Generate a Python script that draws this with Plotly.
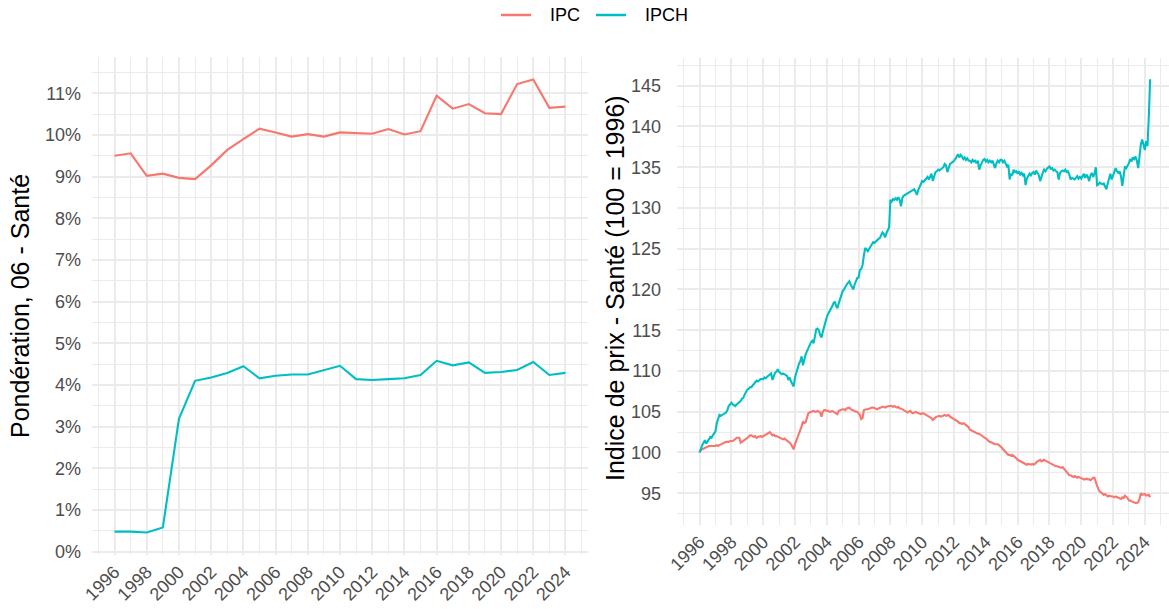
import plotly.graph_objects as go

W, H = 1169, 609

# ---------------- data ----------------
years = list(range(1996, 2025))
ipc_weight = [9.50, 9.56, 9.02, 9.07, 8.97, 8.94, 9.27, 9.64, 9.90, 10.15,
              10.06, 9.96, 10.02, 9.96, 10.06, 10.05, 10.03, 10.14, 10.01, 10.09,
              10.94, 10.63, 10.74, 10.52, 10.50, 11.22, 11.33, 10.65, 10.68]
ipch_weight = [0.48, 0.48, 0.46, 0.58, 3.19, 4.10, 4.18, 4.29, 4.45, 4.16,
               4.22, 4.25, 4.25, 4.35, 4.46, 4.14, 4.12, 4.14, 4.16, 4.24,
               4.58, 4.47, 4.54, 4.29, 4.31, 4.36, 4.55, 4.24, 4.29]

# monthly price index, Jan 1996 -> May 2024 (one row per year)
ipch_index = [
    100.0, 100.6, 100.9, 101.2, 101.5, 101.1, 101.3, 101.6, 101.9, 101.8, 102.1, 102.3,
    102.6, 103.6, 104.2, 104.6, 104.5, 104.6, 104.6, 104.7, 104.9, 105.2, 105.7, 105.9,
    106.1, 105.9, 105.8, 105.7, 105.9, 106.0, 106.1, 106.3, 106.6, 106.7, 107.1, 107.4,
    107.7, 107.8, 108.0, 108.0, 108.2, 108.4, 108.6, 108.8, 108.7, 108.9, 109.0, 109.0,
    109.0, 109.2, 109.1, 109.3, 109.4, 109.6, 109.7, 108.9, 109.5, 109.8, 109.9, 110.2,
    109.9, 109.7, 109.6, 109.7, 109.6, 109.6, 109.4, 108.9, 109.2, 108.7, 108.4, 108.1,
    109.2, 109.9, 110.4, 110.9, 111.2, 111.8, 110.7, 111.6, 112.0, 112.4, 112.8, 113.2,
    113.5, 113.7, 113.4, 114.2, 115.1, 115.2, 115.0, 114.4, 114.1, 114.8, 115.5, 115.8,
    116.6, 117.0, 117.3, 117.5, 117.9, 118.3, 118.5, 118.0, 117.7, 118.3, 118.9, 119.5,
    119.8, 120.0, 120.4, 120.6, 120.8, 121.0, 120.6, 120.2, 120.0, 120.6, 121.1, 121.4,
    121.5, 122.4, 122.5, 123.0, 124.2, 125.1, 124.9, 124.7, 125.0, 125.3, 125.6, 125.8,
    125.7, 125.9, 126.1, 126.2, 126.3, 126.6, 127.0, 126.8, 126.4, 126.9, 127.3, 127.6,
    131.0, 130.8, 131.1, 131.0, 131.2, 131.0, 131.3, 131.0, 130.2, 131.2, 131.5, 131.6,
    131.7, 131.8, 131.9, 132.0, 132.0, 132.2, 132.3, 132.0, 131.6, 132.2, 132.6, 132.9,
    133.3, 133.2, 133.4, 133.6, 133.8, 133.5, 134.0, 134.2, 133.3, 134.0, 134.4, 134.5,
    134.7, 134.6, 134.7, 134.9, 135.0, 135.4, 135.2, 134.4, 135.0, 135.4, 135.5, 135.6,
    135.8, 136.0, 136.4, 136.6, 136.2, 136.5, 136.3, 136.0, 136.2, 135.9, 136.1, 135.8,
    135.8, 135.6, 135.9, 135.7, 135.8, 135.5, 135.8, 134.7, 135.2, 135.6, 135.9, 136.0,
    135.7, 135.9, 135.6, 135.8, 135.6, 135.8, 135.4, 134.9, 135.5, 135.8, 135.6, 135.9,
    135.9, 135.6, 135.8, 135.4, 135.1, 135.3, 133.5, 134.2, 134.0, 134.7, 134.4, 134.5,
    134.2, 134.5, 134.1, 134.3, 134.0, 134.2, 132.8, 133.6, 133.9, 134.2, 134.0, 134.3,
    134.4, 134.1, 134.6, 134.2, 134.0, 133.3, 133.9, 134.3, 134.7, 134.5, 134.8, 135.0,
    135.1, 134.8, 134.9, 134.6, 134.7, 134.5, 134.4, 133.5, 134.3, 134.5, 134.6, 134.5,
    134.7, 134.4, 134.5, 134.1, 133.5, 133.7, 133.6, 133.5, 133.7, 133.9, 133.6, 133.8,
    133.6, 134.0, 134.2, 133.7, 134.1, 133.8, 133.3, 134.0, 134.3, 133.8, 134.2, 135.0,
    132.8, 132.9, 133.1, 133.0, 132.9, 133.0, 132.7, 132.3, 133.0, 133.8, 134.2, 133.5,
    134.0, 134.6, 134.9, 134.5, 134.3, 134.5, 133.9, 132.7, 134.2, 135.1, 134.9, 135.2,
    135.5, 136.0, 135.7, 136.2, 136.0, 136.3, 135.8, 134.9, 136.5, 137.8, 138.4, 137.5,
    137.1, 138.2, 137.6, 141.2, 145.8,
]
ipc_index = [
    100.0, 100.3, 100.4, 100.5, 100.6, 100.6, 100.7, 100.8, 100.8, 100.8, 100.8, 100.8,
    100.8, 100.9, 100.8, 100.9, 101.0, 101.1, 101.2, 101.2, 101.3, 101.3, 101.3, 101.4,
    101.4, 101.4, 101.5, 101.7, 101.8, 101.8, 101.8, 101.2, 101.3, 101.5, 101.6, 101.6,
    101.7, 101.9, 102.1, 102.1, 102.0, 101.9, 102.0, 101.8, 101.9, 102.0, 102.0, 101.9,
    102.0, 102.0, 102.1, 102.2, 102.4, 102.5, 102.3, 102.1, 102.2, 102.0, 102.0, 101.9,
    101.8, 101.8, 101.7, 101.6, 101.7, 101.6, 101.4, 101.3, 101.2, 101.0, 100.7, 100.4,
    101.0, 101.4, 101.8, 102.3, 102.7, 103.2, 103.8, 103.6, 103.7, 104.3, 104.8, 104.9,
    105.0, 105.0, 105.1, 105.0, 105.0, 105.1, 105.0, 104.9, 104.4, 105.0, 105.2, 105.2,
    105.1, 105.1, 105.0, 105.0, 105.1, 105.0, 104.8, 104.8, 104.7, 105.1, 105.2, 105.2,
    105.3, 105.3, 105.2, 105.4, 105.5, 105.5, 105.3, 105.2, 105.2, 105.1, 105.0, 105.0,
    104.8, 104.6, 104.1, 104.2, 105.2, 105.3, 105.3, 105.3, 105.4, 105.4, 105.5, 105.5,
    105.4, 105.3, 105.3, 105.4, 105.5, 105.5, 105.6, 105.6, 105.5, 105.6, 105.7, 105.7,
    105.7, 105.7, 105.6, 105.7, 105.6, 105.5, 105.6, 105.4, 105.4, 105.3, 105.2, 105.1,
    105.0, 104.9, 105.0, 105.1, 104.9, 104.8, 104.9, 105.0, 104.9, 104.8, 104.8, 104.7,
    104.8, 104.8, 104.7, 104.6, 104.6, 104.5, 104.4, 104.2, 104.0, 104.2, 104.3, 104.4,
    104.5, 104.5, 104.4, 104.5, 104.6, 104.6, 104.5, 104.6, 104.6, 104.4, 104.3, 104.2,
    104.2, 104.1, 104.0, 103.8, 103.6, 103.6, 103.5, 103.6, 103.5, 103.4, 103.3, 103.1,
    102.8, 102.7, 102.6, 102.6, 102.5, 102.4, 102.3, 102.3, 102.2, 102.1, 101.9, 101.8,
    101.7, 101.6, 101.4, 101.3, 101.2, 101.2, 101.1, 101.0, 101.0, 101.0, 100.9, 100.8,
    100.6, 100.4, 100.2, 100.0, 99.9, 99.7, 99.7, 99.6, 99.7, 99.6, 99.5, 99.3,
    99.1, 99.0, 98.9, 98.8, 98.7, 98.6, 98.6, 98.5, 98.6, 98.5, 98.5, 98.6,
    98.5, 98.6, 98.8, 98.9, 99.0, 99.1, 98.9, 99.0, 99.1, 99.0, 98.9, 98.8,
    98.7, 98.6, 98.5, 98.4, 98.4, 98.3, 98.3, 98.2, 98.1, 98.1, 98.2, 98.0,
    97.7, 97.6, 97.4, 97.2, 97.2, 97.1, 97.0, 97.1, 97.0, 96.9, 97.0, 96.9,
    96.8, 96.8, 96.7, 96.7, 96.8, 96.7, 96.7, 96.6, 96.8, 96.9, 96.9, 96.2,
    95.9, 95.5, 95.2, 95.1, 95.0, 94.8, 94.9, 94.7, 94.6, 94.7, 94.6, 94.6,
    94.6, 94.5, 94.6, 94.5, 94.4, 94.3, 94.3, 94.5, 94.4, 94.7, 94.6, 94.4,
    94.1, 94.1, 94.0, 93.9, 93.9, 93.8, 93.8, 93.9, 94.3, 95.0, 94.8, 94.9,
    94.9, 94.7, 94.8, 94.8, 94.5,
]
months = [1996 + i / 12 for i in range(len(ipc_index))]

series_names = ["IPC", "IPCH"]
year_ticks = list(range(1996, 2025, 2))
year_labels = [str(y) for y in year_ticks]
minor_years = list(range(1995, 2026, 2))
pct_ticks = list(range(0, 12))
pct_labels = [f"{v}%" for v in pct_ticks]
idx_ticks = list(range(95, 146, 5))

COL_IPC = "#F8766D"
COL_IPCH = "#00BFC4"
GRID = "#EBEBEB"
FONT = "Liberation Sans, Arial, sans-serif"

fig = go.Figure()
fig.add_trace(go.Scatter(x=years, y=ipc_weight, mode="lines", name=series_names[0],
                         line=dict(color=COL_IPC, width=2.1), xaxis="x", yaxis="y"))
fig.add_trace(go.Scatter(x=years, y=ipch_weight, mode="lines", name=series_names[1],
                         line=dict(color=COL_IPCH, width=2.1), xaxis="x", yaxis="y"))
fig.add_trace(go.Scatter(x=months, y=ipc_index, mode="lines", name=series_names[0],
                         line=dict(color=COL_IPC, width=2.1), xaxis="x2", yaxis="y2"))
fig.add_trace(go.Scatter(x=months, y=ipch_index, mode="lines", name=series_names[1],
                         line=dict(color=COL_IPCH, width=2.1), xaxis="x2", yaxis="y2"))

tickfont = dict(family=FONT, size=18, color="#4D4D4D")

def xaxis(domain, rng, anchor):
    return dict(domain=domain, range=rng, anchor=anchor,
                tickvals=year_ticks, ticktext=year_labels, tickangle=-45,
                tickfont=tickfont, showgrid=True, gridcolor=GRID, gridwidth=1.7,
                zeroline=False, showline=False, ticks="", ticklabelstandoff=2,
                minor=dict(tickvals=minor_years, showgrid=True, gridcolor=GRID, gridwidth=1.0),
                automargin=False, fixedrange=True)

fig.update_layout(
    xaxis=xaxis([92 / W, 588 / W], [1994.6, 2025.4], "y"),
    yaxis=dict(domain=[1 - 555 / H, 1 - 57 / H], range=[-0.08, 11.87], anchor="x",
               tickvals=pct_ticks, ticktext=pct_labels, tickfont=tickfont,
               showgrid=True, gridcolor=GRID, gridwidth=1.7, zeroline=False,
               ticks="", ticklabelstandoff=10,
               minor=dict(dtick=0.5, tick0=0.5, showgrid=True, gridcolor=GRID, gridwidth=1.0),
               automargin=False, fixedrange=True),
    xaxis2=xaxis([677 / W, 1.0], [1994.58, 2025.52], "y2"),
    yaxis2=dict(domain=[1 - 525 / H, 1 - 58 / H], range=[91.1, 148.4], anchor="x2",
                tickvals=idx_ticks, tickfont=tickfont,
                showgrid=True, gridcolor=GRID, gridwidth=1.7, zeroline=False,
                ticks="", ticklabelstandoff=15,
                minor=dict(dtick=2.5, tick0=92.5, showgrid=True, gridcolor=GRID, gridwidth=1.0),
                automargin=False, fixedrange=True),
)

fig.add_annotation(text="Pondération, 06 - Santé", textangle=-90,
                   x=20 / W, y=1 - 306 / H, xref="paper", yref="paper",
                   xanchor="center", yanchor="middle",
                   showarrow=False, font=dict(family=FONT, size=25, color="black"))
fig.add_annotation(text="Indice de prix - Santé (100 = 1996)", textangle=-90,
                   x=615 / W, y=1 - 288 / H, xref="paper", yref="paper",
                   xanchor="center", yanchor="middle",
                   showarrow=False, font=dict(family=FONT, size=25, color="black"))

# legend drawn at the top centre (keys + labels)
legend_items = [(series_names[0], COL_IPC, 501), (series_names[1], COL_IPCH, 596)]
for name, col, x0 in legend_items:
    fig.add_shape(type="line", xref="paper", yref="paper",
                  x0=x0 / W, x1=(x0 + 30) / W, y0=1 - 15 / H, y1=1 - 15 / H,
                  line=dict(color=col, width=2.5))
    fig.add_annotation(text=name, xref="paper", yref="paper",
                       x=(x0 + 47) / W, y=1 - 15 / H, xanchor="left", yanchor="middle",
                       showarrow=False, font=dict(family=FONT, size=18, color="black"))

fig.update_layout(
    width=W, height=H,
    margin=dict(l=0, r=0, t=0, b=0),
    paper_bgcolor="white", plot_bgcolor="white",
    showlegend=False,
    font=dict(family=FONT),
)

fig.write_html("out.html", config={"displayModeBar": False},
               post_script="document.body.style.margin='0';")
